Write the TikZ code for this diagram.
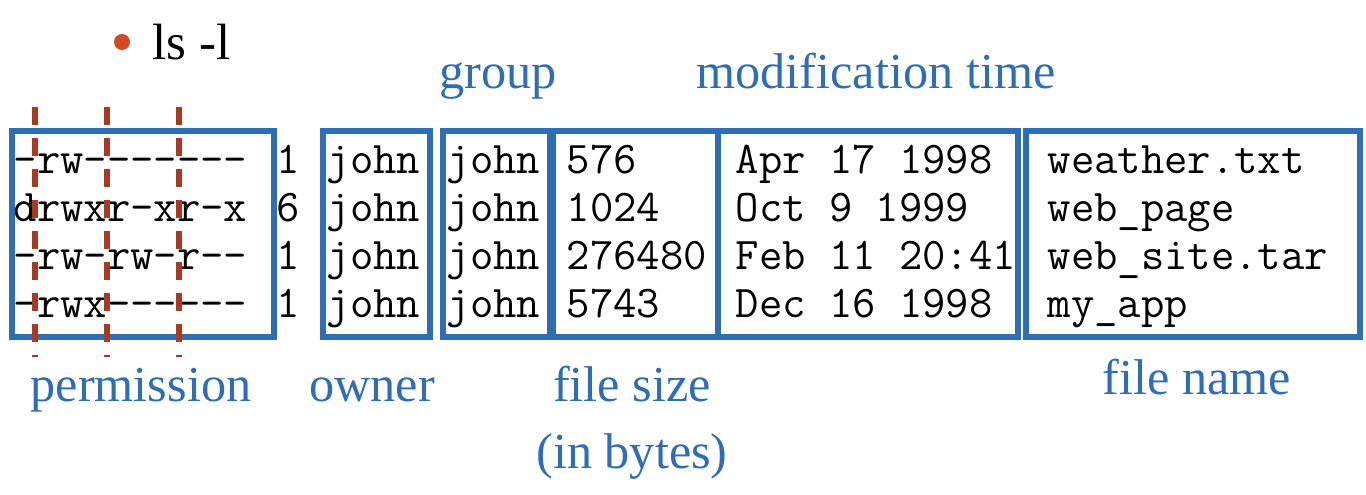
\documentclass[tikz,border=0pt]{standalone}
\usepackage{fontspec}
\setmainfont{Liberation Serif}
\definecolor{boxblue}{HTML}{2F6DB5}
\definecolor{dashred}{HTML}{A93A22}
\definecolor{bulletred}{HTML}{D04A25}
\tikzset{
  colbox/.style={draw=boxblue, line width=0.058cm, inner sep=0pt, fill=none},
  monotext/.style={inner sep=0pt, anchor=base west, font=\ttfamily\fontsize{12.9}{15}\selectfont, text=black},
  label/.style={inner sep=0pt, anchor=base, font=\fontsize{14.3}{17}\selectfont, text=boxblue},
  permdash/.style={draw=dashred, line width=0.058cm, dash pattern=on 0.18cm off 0.13cm},
}
\begin{document}
\begin{tikzpicture}[x=0.01cm, y=-0.01cm]
\useasboundingbox (0,0) rectangle (1366,495);
% bullet and command
\fill[bulletred] (122,42) circle (8);
\node[inner sep=0pt, anchor=base west, font=\fontsize{14.5}{17}\selectfont] (cmd) at (152,60) {ls -l};
% column texts
\foreach \t [count=\i] in {-rw-------,drwxr-xr-x,-rw-rw-r--,-rwx------}
  \node[monotext] (perm\i) at (13,{174+48*(\i-1)}) {\t};
\foreach \t [count=\i] in {1,6,1,1}
  \node[monotext] (link\i) at (276,{174+48*(\i-1)}) {\t};
\foreach \i in {1,...,4}{
  \node[monotext] (own\i) at (326,{174+48*(\i-1)}) {john};
  \node[monotext] (grp\i) at (446,{174+48*(\i-1)}) {john};
}
\foreach \t [count=\i] in {576,1024,276480,5743}
  \node[monotext] (size\i) at (566,{174+48*(\i-1)}) {\t};
\foreach \t [count=\i] in {Apr 17 1998,Oct 9 1999,Feb 11 20:41,Dec 16 1998}
  \node[monotext] (date\i) at (735,{174+48*(\i-1)}) {\t};
\foreach \t [count=\i] in {weather.txt,web\_page,web\_site.tar,my\_app}
  \node[monotext] (name\i) at (1047,{174+48*(\i-1)}) {\t};
% boxes
\draw[colbox] (12,131) rectangle (274,337);
\draw[colbox] (323,131) rectangle (430,337);
\draw[colbox] (443,131) rectangle (550,337);
\draw[colbox] (553,131) rectangle (718,337);
\draw[colbox] (718,131) rectangle (1018,337);
\draw[colbox] (1026,131) rectangle (1360,337);
% permission dashes
\foreach \x [count=\k] in {35,107,179}{
  \coordinate (dtop\k) at (\x,107);
  \coordinate (dbot\k) at (\x,357);
  \draw[permdash] (dtop\k) -- (dbot\k);
}
% labels
\node[label] (lgroup) at (498,89) {group};
\node[label] (lmod) at (876,89) {modification time};
\node[label] (lperm) at (141,402) {permission};
\node[label] (lowner) at (372,402) {owner};
\node[label] (lsize) at (632,402) {file size};
\node[label] (lbytes) at (632,469) {(in bytes)};
\node[label] (lname) at (1197,395) {file name};
\end{tikzpicture}
\end{document}
